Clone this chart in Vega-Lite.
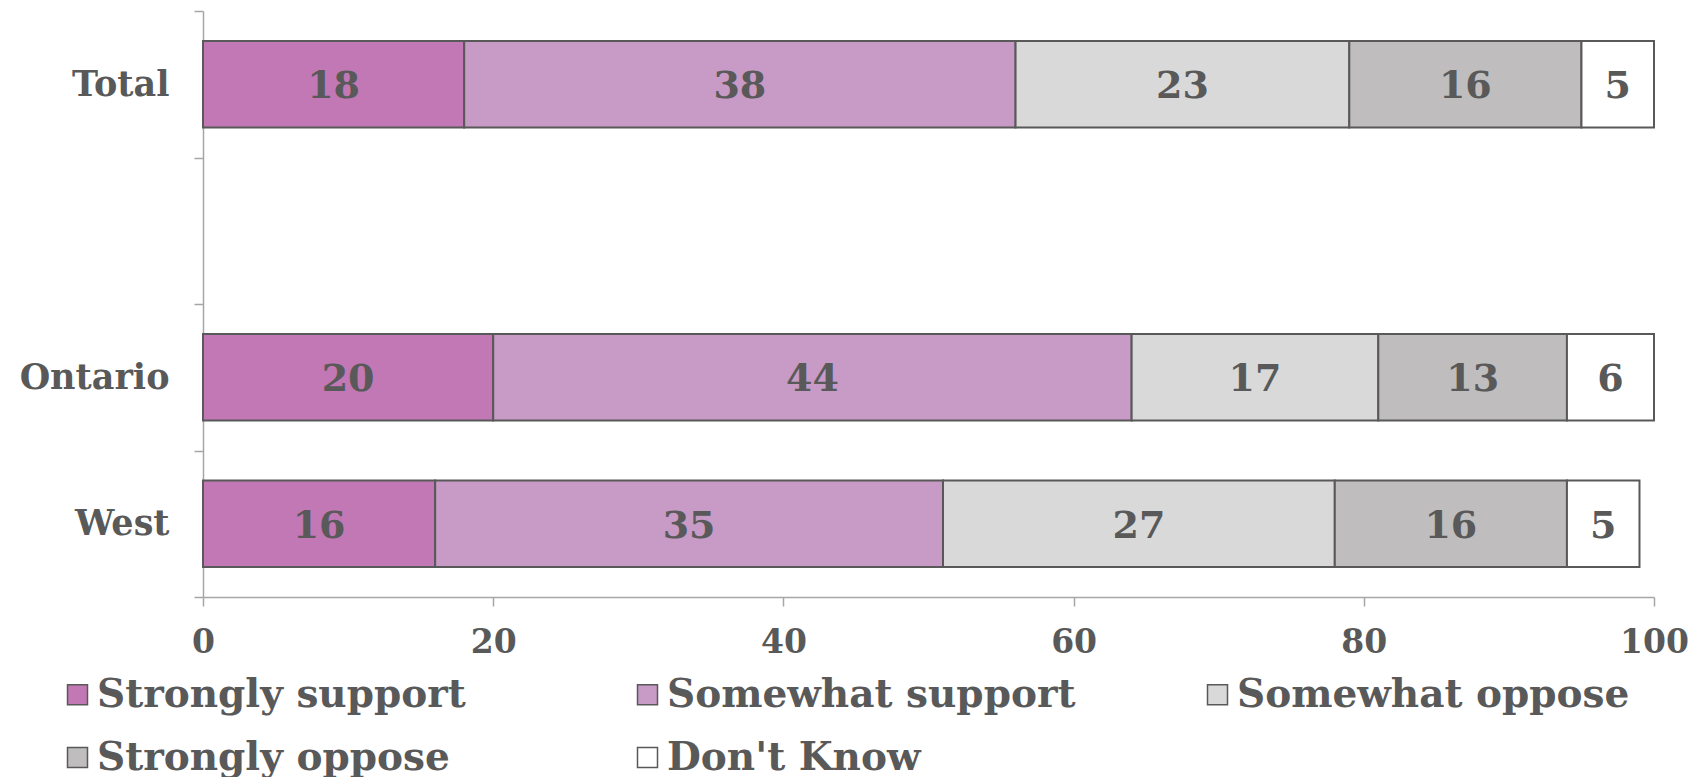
{
  "$schema": "https://vega.github.io/schema/vega-lite/v6.json",
  "autosize": "none",
  "width": 1451,
  "height": 586,
  "padding": {"left": 203, "top": 11, "right": 54, "bottom": 180},
  "background": "white",
  "config": {
    "font": "DejaVu Serif",
    "view": {"stroke": null}
  },
  "data": {
    "values": [
      {"region": "Total", "response": "Strongly support", "k": 1, "value": 18},
      {"region": "Total", "response": "Somewhat support", "k": 2, "value": 38},
      {"region": "Total", "response": "Somewhat oppose", "k": 3, "value": 23},
      {"region": "Total", "response": "Strongly oppose", "k": 4, "value": 16},
      {"region": "Total", "response": "Don't Know", "k": 5, "value": 5},
      {"region": "Ontario", "response": "Strongly support", "k": 1, "value": 20},
      {"region": "Ontario", "response": "Somewhat support", "k": 2, "value": 44},
      {"region": "Ontario", "response": "Somewhat oppose", "k": 3, "value": 17},
      {"region": "Ontario", "response": "Strongly oppose", "k": 4, "value": 13},
      {"region": "Ontario", "response": "Don't Know", "k": 5, "value": 6},
      {"region": "West", "response": "Strongly support", "k": 1, "value": 16},
      {"region": "West", "response": "Somewhat support", "k": 2, "value": 35},
      {"region": "West", "response": "Somewhat oppose", "k": 3, "value": 27},
      {"region": "West", "response": "Strongly oppose", "k": 4, "value": 16},
      {"region": "West", "response": "Don't Know", "k": 5, "value": 5}
    ]
  },
  "encoding": {
    "y": {
      "field": "region",
      "type": "nominal",
      "title": null,
      "scale": {"domain": ["Total", " ", "Ontario", "West"], "paddingInner": 0, "paddingOuter": 0},
      "axis": {
        "tickBand": "extent",
        "domainColor": "#a6a6a6",
        "domainWidth": 1.5,
        "tickColor": "#a6a6a6",
        "tickWidth": 1.5,
        "tickSize": 9,
        "labelFont": "DejaVu Serif",
        "labelFontWeight": "bold",
        "labelFontSize": 35,
        "labelColor": "#595959",
        "labelPadding": 25
      }
    },
    "x": {
      "field": "value",
      "type": "quantitative",
      "stack": "zero",
      "title": null,
      "scale": {"domain": [0, 100], "nice": false},
      "axis": {
        "values": [0, 20, 40, 60, 80, 100],
        "grid": false,
        "domainColor": "#a6a6a6",
        "domainWidth": 1.5,
        "tickColor": "#a6a6a6",
        "tickWidth": 1.5,
        "tickSize": 9,
        "labelFont": "DejaVu Serif",
        "labelFontWeight": "bold",
        "labelFontSize": 33,
        "labelColor": "#595959",
        "labelPadding": 20,
        "labelFlush": false
      }
    },
    "order": {"field": "k", "type": "quantitative"}
  },
  "layer": [
    {
      "mark": {"type": "bar", "height": {"band": 0.59}, "stroke": "#595959", "strokeWidth": 2, "opacity": 1},
      "encoding": {
        "color": {
          "field": "response",
          "type": "nominal",
          "title": null,
          "scale": {
            "domain": ["Strongly support", "Somewhat support", "Somewhat oppose", "Strongly oppose", "Don't Know"],
            "range": ["#c178b4", "#c89ac6", "#d9d9d9", "#bfbdbe", "#ffffff"]
          },
          "legend": {
            "orient": "none",
            "legendX": -145,
            "legendY": 664,
            "direction": "horizontal",
            "columns": 3,
            "gridAlign": "all",
            "columnPadding": 122,
            "rowPadding": 23,
            "symbolType": "square",
            "symbolSize": 400,
            "symbolStrokeColor": "#595959",
            "symbolStrokeWidth": 1.5,
            "symbolOpacity": 1,
            "labelFont": "DejaVu Serif",
            "labelFontWeight": "bold",
            "labelFontSize": 39,
            "labelColor": "#595959",
            "labelOffset": 0,
            "labelLimit": 600
          }
        }
      }
    },
    {
      "mark": {"type": "text", "font": "DejaVu Serif", "fontWeight": "bold", "fontSize": 38, "color": "#595959", "baseline": "middle", "dy": 3},
      "encoding": {
        "x": {"field": "value", "type": "quantitative", "stack": "zero", "bandPosition": 0.5},
        "text": {"field": "value", "type": "quantitative"}
      }
    }
  ]
}
